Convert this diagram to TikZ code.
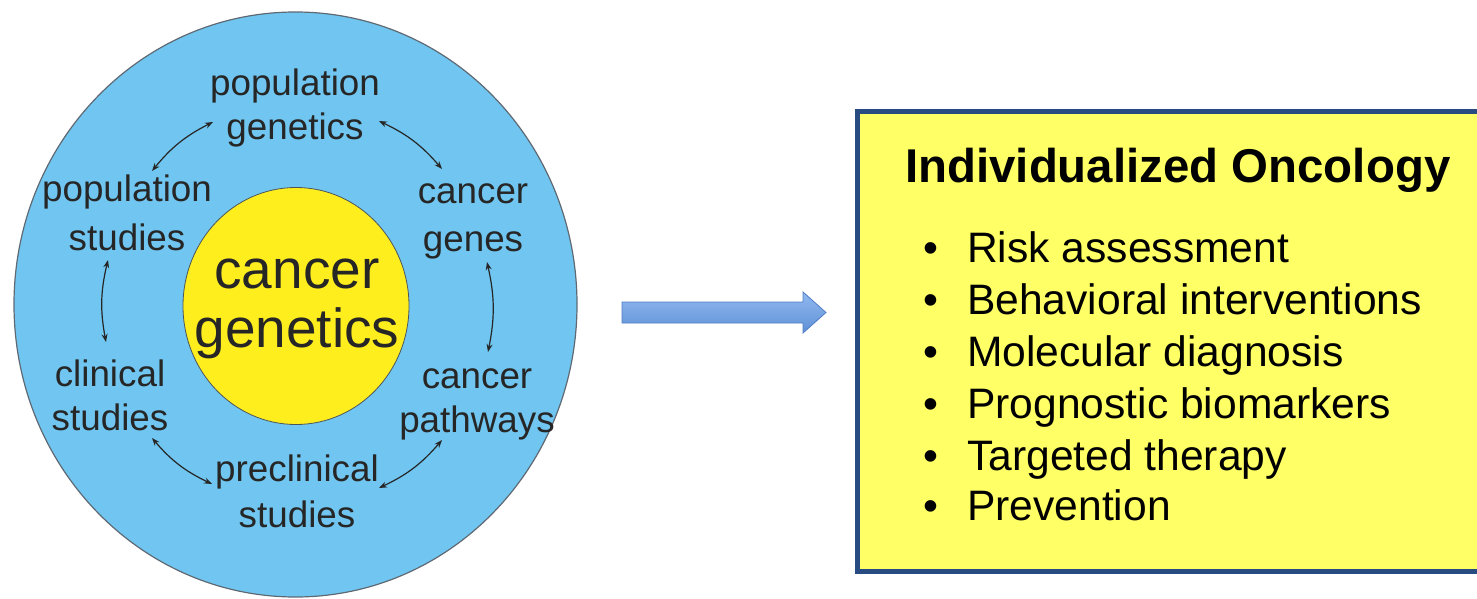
\documentclass[tikz,border=0pt]{standalone}
\usepackage{fontspec}
\setmainfont{Liberation Sans}
\usetikzlibrary{arrows.meta,shapes.geometric,calc}
\definecolor{ringblue}{RGB}{112,198,240}
\definecolor{ringedge}{RGB}{95,105,115}
\definecolor{coreyellow}{RGB}{255,238,30}
\definecolor{labelgray}{RGB}{38,38,38}
\definecolor{boxyellow}{RGB}{255,255,102}
\definecolor{boxblue}{RGB}{40,75,130}
\definecolor{arrowtop}{RGB}{145,185,240}
\definecolor{arrowbot}{RGB}{95,145,215}
\definecolor{arrowedge}{RGB}{80,125,195}
\begin{document}
\begin{tikzpicture}[x=1pt,y=-1pt,
  lbl/.style={text=labelgray, align=center, inner sep=0pt},
  cyc/.style={draw=labelgray, line width=1.2pt,
    {Stealth[length=8pt,width=6pt]}-{Stealth[length=8pt,width=6pt]}},
  item/.style={anchor=base west, inner sep=0pt, text=black,
    font=\fontsize{42.6}{50}\selectfont},
]
\useasboundingbox (0,0) rectangle (1477,599);

% outer ring
\node (field) [ellipse, draw=ringedge, line width=1.2pt, fill=ringblue,
  minimum width=563pt, minimum height=585pt, inner sep=0pt] at (295.5,304.5) {};

% core
\node (core) [ellipse, draw=ringedge!80!black, line width=0.8pt, fill=coreyellow,
  minimum width=226pt, minimum height=237pt, inner sep=0pt] at (296,306) {};
\node (coretext) [lbl, font=\fontsize{55}{59}\selectfont] at (297,309) {cancer\\genetics};

% labels
\node (popgen)  [lbl, font=\fontsize{36.8}{44}\selectfont] at (295,107.5) {population\\genetics};
\node (popstud) [lbl, font=\fontsize{36.8}{49}\selectfont] at (127,213) {population\\studies};
\node (genes)   [lbl, font=\fontsize{36.8}{48}\selectfont] at (473,221) {cancer\\genes};
\node (clin)    [lbl, font=\fontsize{36.8}{44}\selectfont] at (110,395.5) {clinical\\studies};
\node (path)    [lbl, font=\fontsize{36.8}{44}\selectfont] at (477,404) {cancer\\pathways};
\node (precl)   [lbl, font=\fontsize{36.8}{46}\selectfont] at (297,491) {preclinical\\studies};

% cycle arrows
\draw[cyc] ([shift={(-82,14.5)}]popgen.center) to[bend right=12] ([shift={(25,-42)}]popstud.center);
\draw[cyc] ([shift={(-19,47)}]popstud.center) to[bend right=12] ([shift={(-4,-53.5)}]clin.center);
\draw[cyc] ([shift={(42,42.5)}]clin.center) to[bend right=12] ([shift={(-85,-7)}]precl.center);
\draw[cyc] ([shift={(82,-3)}]precl.center) to[bend right=12] ([shift={(-35,36)}]path.center);
\draw[cyc] ([shift={(11,-52)}]path.center) to[bend right=12] ([shift={(14,41)}]genes.center);
\draw[cyc] ([shift={(-31,-52)}]genes.center) to[bend right=12] ([shift={(84,13.5)}]popgen.center);

% block arrow
\shade[top color=arrowtop, bottom color=arrowbot, draw=arrowedge, line width=0.8pt]
  (622,302) -- (803,302) -- (803,292) -- (826,312.5) -- (803,333) -- (803,323) -- (622,323) -- cycle;

% box
\draw[fill=boxyellow, draw=boxblue, line width=5pt] (857.5,111.5) rectangle (1495,571.5);

\node (title) [anchor=base west, inner sep=0pt, text=black,
  font=\bfseries\fontsize{47.4}{52}\selectfont] at (905,182) {Individualized Oncology};

\node (i1) [item] at (967,262) {\llap{\textbullet\hspace{29pt}}Risk assessment};
\node (i2) [item] at (967,314) {\llap{\textbullet\hspace{29pt}}Behavioral interventions};
\node (i3) [item] at (967,366) {\llap{\textbullet\hspace{29pt}}Molecular diagnosis};
\node (i4) [item] at (967,418) {\llap{\textbullet\hspace{29pt}}Prognostic biomarkers};
\node (i5) [item] at (967,470) {\llap{\textbullet\hspace{29pt}}Targeted therapy};
\node (i6) [item] at (967,520) {\llap{\textbullet\hspace{29pt}}Prevention};
\end{tikzpicture}
\end{document}
